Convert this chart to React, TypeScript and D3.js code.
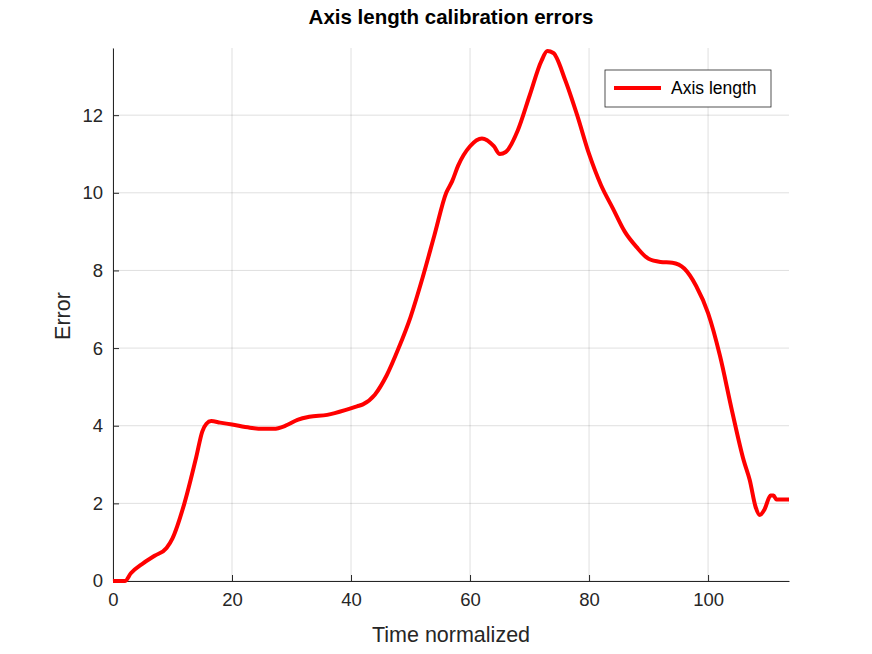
import React, { useRef, useEffect } from 'react';
import * as d3 from 'd3';

const timeValues = [0, 2, 3, 5, 7, 9, 10, 12, 14, 15, 15.7, 16.5, 18, 20, 23, 25, 27, 29, 31, 33, 36, 39, 41, 42, 44, 46, 48, 50, 52, 54, 56, 57, 58, 60, 62, 64, 65, 66, 68, 70, 72, 73, 74, 76, 78, 80, 82, 84, 86, 88, 90, 92, 94, 96, 98, 100, 102, 104, 106, 107, 108, 108.7, 109.5, 110.5, 111, 111.5, 113.6];
const errorValues = [0, 0, 0.2, 0.45, 0.65, 0.85, 1.1, 2.0, 3.2, 3.85, 4.05, 4.12, 4.08, 4.03, 3.95, 3.92, 3.92, 4.0, 4.15, 4.23, 4.28, 4.4, 4.5, 4.55, 4.8, 5.3, 6.0, 6.8, 7.8, 8.9, 10.0, 10.3, 10.7, 11.2, 11.4, 11.2, 11.0, 11.05, 11.6, 12.5, 13.4, 13.65, 13.6, 12.9, 12.0, 11.0, 10.2, 9.6, 9.0, 8.6, 8.3, 8.22, 8.2, 8.05, 7.6, 6.9, 5.8, 4.4, 3.1, 2.6, 1.9, 1.7, 1.85, 2.2, 2.2, 2.1, 2.1];
const xTicks = [0, 20, 40, 60, 80, 100];
const yTicks = [0, 2, 4, 6, 8, 10, 12];

export default function App() {
  const svgRef = useRef<SVGSVGElement>(null);

  useEffect(() => {
    const svg = d3.select(svgRef.current).attr('width', 872).attr('height', 654);
    svg.selectAll('*').remove();
    const font = 'Liberation Sans, Arial, sans-serif';
    const left = 113, right = 789, top = 48, bottom = 581;

    const x = d3.scaleLinear().domain([0, 113.6]).range([left, right]);
    const y = d3.scaleLinear().domain([0, 13.73]).range([bottom, top]);

    svg.append('rect').attr('width', 872).attr('height', 654).attr('fill', '#fff');

    // grid
    const grid = svg.append('g').attr('stroke', '#000').attr('stroke-opacity', 0.18).attr('stroke-width', 0.7);
    xTicks.forEach(t => grid.append('line').attr('x1', x(t)).attr('x2', x(t)).attr('y1', top).attr('y2', bottom));
    yTicks.forEach(t => grid.append('line').attr('x1', left).attr('x2', right).attr('y1', y(t)).attr('y2', y(t)));

    // axes
    const xAxis = svg.append('g').attr('transform', `translate(0,${bottom})`)
      .call(d3.axisBottom(x).tickValues(xTicks).tickSize(-6).tickSizeOuter(0).tickPadding(12));
    const yAxis = svg.append('g').attr('transform', `translate(${left},0)`)
      .call(d3.axisLeft(y).tickValues(yTicks).tickSize(-6).tickSizeOuter(0).tickPadding(10));
    [xAxis, yAxis].forEach(a => {
      a.select('.domain').attr('stroke', '#262626');
      a.selectAll('line').attr('stroke', '#262626');
      a.selectAll('text').attr('fill', '#262626').style('font-family', font).style('font-size', '18.5px');
    });

    // line
    const pts = timeValues.map((t, i) => [t, errorValues[i]] as [number, number]);
    const line = d3.line<[number, number]>().x(d => x(d[0])).y(d => y(d[1])).curve(d3.curveMonotoneX);
    svg.append('path').datum(pts).attr('fill', 'none').attr('stroke', '#ff0000')
      .attr('stroke-width', 4).attr('stroke-linejoin', 'round').attr('d', line);

    // labels
    svg.append('text').attr('x', 451).attr('y', 24).attr('text-anchor', 'middle')
      .style('font-family', font).style('font-size', '20.5px').style('font-weight', 'bold').text('Axis length calibration errors');
    svg.append('text').attr('x', 451).attr('y', 642).attr('text-anchor', 'middle').attr('fill', '#262626')
      .style('font-family', font).style('font-size', '21.5px').text('Time normalized');
    svg.append('text').attr('transform', 'translate(70,316) rotate(-90)').attr('text-anchor', 'middle').attr('fill', '#262626')
      .style('font-family', font).style('font-size', '21.5px').text('Error');

    // legend
    const lg = svg.append('g');
    lg.append('rect').attr('x', 605).attr('y', 70).attr('width', 166).attr('height', 37)
      .attr('fill', '#fff').attr('stroke', '#262626').attr('stroke-width', 0.8);
    lg.append('line').attr('x1', 614).attr('x2', 661).attr('y1', 88).attr('y2', 88).attr('stroke', '#ff0000').attr('stroke-width', 4);
    lg.append('text').attr('x', 671).attr('y', 94).style('font-family', font).style('font-size', '17.5px').attr('fill', '#000').text('Axis length');
  }, []);

  return <svg ref={svgRef} style={{ display: 'block', margin: '-8px' }} />;
}
